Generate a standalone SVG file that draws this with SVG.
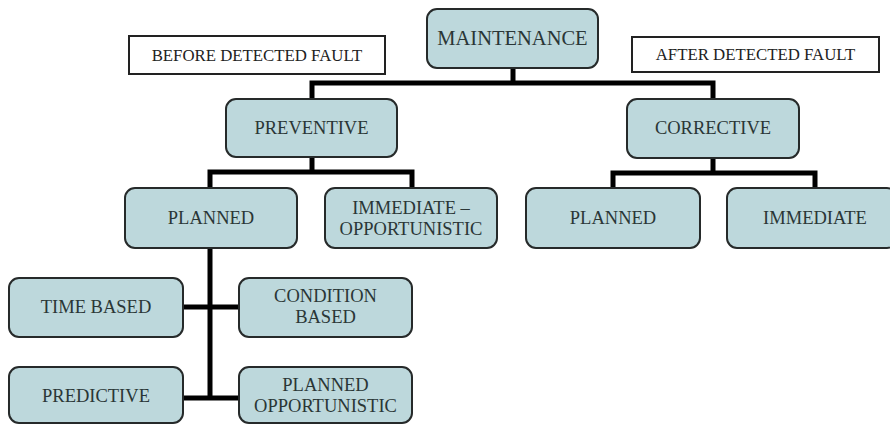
<svg xmlns="http://www.w3.org/2000/svg" width="890" height="424" viewBox="0 0 890 424">
<style>
.n{fill:#bdd8dc;stroke:#262a2a;stroke-width:2}
.l{fill:#fff;stroke:#222;stroke-width:2}
text{font-family:'Liberation Serif','Times New Roman','DejaVu Serif',serif;text-anchor:middle}
.t{font-size:18.500px;fill:#2a3636}
.tl{font-size:16.800px;fill:#222}
.c{fill:none;stroke:#000;stroke-width:5;stroke-linejoin:miter}
</style>
<rect width="890" height="424" fill="#fff"/>
<g id="connectors">
<path class="c" d="M513 69V83M312 99V83H713V99"/>
<path class="c" d="M312 157V172M210 188V172H412V188"/>
<path class="c" d="M713 158V173M613 188V173H815V188"/>
<path class="c" d="M210 248V398M183 307H239M183 398H239"/>
</g>
<g id="before"><rect class="l" x="129" y="36" width="256" height="38"/><text class="tl" x="257" y="61">BEFORE DETECTED FAULT</text></g>
<g id="after"><rect class="l" x="632" y="37" width="247" height="35"/><text class="tl" x="755.500" y="60">AFTER DETECTED FAULT</text></g>
<g id="maintenance"><rect class="n" x="427" y="9" width="171" height="59" rx="10"/><text class="t" x="512.500" y="45" style="font-size:20.500px">MAINTENANCE</text></g>
<g id="preventive"><rect class="n" x="226" y="99" width="171" height="58" rx="10"/><text class="t" x="311.500" y="134">PREVENTIVE</text></g>
<g id="corrective"><rect class="n" x="627" y="99" width="172" height="59" rx="10"/><text class="t" x="713" y="134">CORRECTIVE</text></g>
<g id="planned"><rect class="n" x="125" y="188" width="172" height="60" rx="10"/><text class="t" x="211" y="224">PLANNED</text></g>
<g id="immediate-opportunistic"><rect class="n" x="325" y="188" width="172" height="60" rx="10"/><text class="t" x="411" y="214">IMMEDIATE –</text><text class="t" x="411" y="235">OPPORTUNISTIC</text></g>
<g id="planned-c"><rect class="n" x="526" y="188" width="174" height="60" rx="10"/><text class="t" x="613" y="224">PLANNED</text></g>
<g id="immediate"><rect class="n" x="727" y="188" width="170" height="60" rx="10"/><text class="t" x="815" y="224">IMMEDIATE</text></g>
<g id="time-based"><rect class="n" x="9" y="278" width="174" height="59" rx="10"/><text class="t" x="96" y="313">TIME BASED</text></g>
<g id="condition-based"><rect class="n" x="239" y="278" width="173" height="59" rx="10"/><text class="t" x="325.500" y="302">CONDITION</text><text class="t" x="325.500" y="323">BASED</text></g>
<g id="predictive"><rect class="n" x="9" y="367" width="174" height="56" rx="10"/><text class="t" x="96" y="402">PREDICTIVE</text></g>
<g id="planned-opportunistic"><rect class="n" x="239" y="367" width="173" height="56" rx="10"/><text class="t" x="325.500" y="391">PLANNED</text><text class="t" x="325.500" y="412">OPPORTUNISTIC</text></g>
</svg>
